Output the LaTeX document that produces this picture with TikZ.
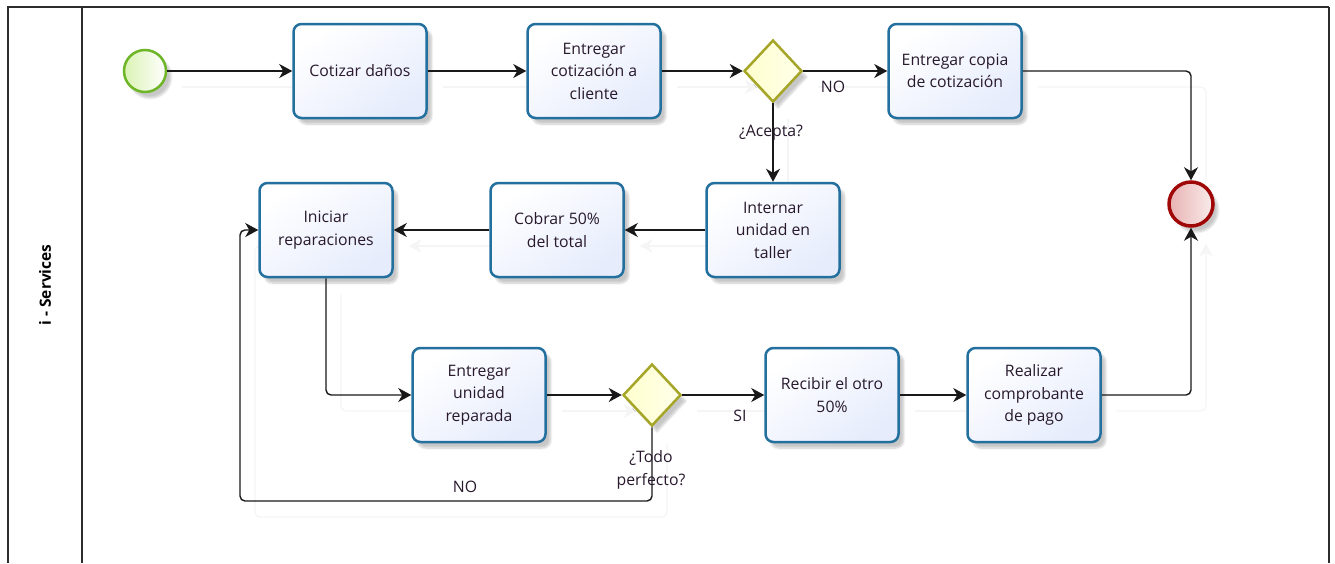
\documentclass[tikz,border=0pt]{standalone}
\usepackage{fontspec}
\setmainfont{Open Sans}
\usetikzlibrary{shapes.geometric,arrows.meta,shadows.blur,backgrounds}

\definecolor{taskline}{RGB}{35,112,158}
\definecolor{taskfill}{RGB}{230,236,252}
\definecolor{gwline}{RGB}{165,165,40}
\definecolor{gwfill}{RGB}{255,255,205}
\definecolor{startline}{RGB}{110,182,40}
\definecolor{startfill}{RGB}{218,242,180}
\definecolor{endline}{RGB}{160,8,8}
\definecolor{endfill}{RGB}{232,178,178}
\definecolor{textcol}{RGB}{40,25,45}
\definecolor{framecol}{RGB}{45,45,45}

\tikzset{
  x=1pt, y=-1pt,
  txt/.style={text=textcol, font=\fontsize{15.8}{22.5}\selectfont, align=center},
  softshadow/.style={blur shadow={shadow xshift=5pt, shadow yshift=-6pt,
      shadow opacity=22, shadow blur steps=7}},
  task/.style={txt, rectangle, rounded corners=8pt, draw=taskline, line width=2.5pt,
      top color=white, bottom color=taskfill, shading angle=35,
      minimum width=133pt, minimum height=94pt, inner sep=2pt, softshadow},
  gateway/.style={diamond, draw=gwline, line width=2.5pt,
      left color=gwfill, right color=gwfill!40, minimum width=58pt,
      minimum height=62pt, inner sep=0pt, softshadow},
  startev/.style={circle, draw=startline, line width=2.5pt,
      left color=startfill, right color=white, minimum size=42pt,
      inner sep=0pt, softshadow},
  endev/.style={circle, draw=endline, line width=3.5pt,
      left color=endfill, right color=endfill!25, minimum size=44pt,
      inner sep=0pt, softshadow},
  flowline/.style={draw=black!90, line width=1.4pt, rounded corners=5pt,
      -{Stealth[length=13pt,width=14pt,inset=4pt]}},
  ghostline/.style={draw=black!4, line width=1.4pt, rounded corners=5pt,
      -{Stealth[length=13pt,width=14pt,inset=4pt]}},
  lbl/.style={txt, inner sep=1pt}
}

% sequence flow with its faint offset echo underneath
\newcommand\flow[1]{%
  \begin{pgfonlayer}{background}
    \begin{scope}[transform canvas={shift={(15pt,-16pt)}}]
      \draw[ghostline] #1;
    \end{scope}
  \end{pgfonlayer}
  \draw[flowline] #1;}

\begin{document}
\begin{tikzpicture}
\useasboundingbox (0,0) rectangle (1335,563);

% pool and lane frame
\draw[framecol, line width=1.8pt] (8,563) -- (8,7) -- (1329,7);
\draw[framecol, line width=1.2pt] (1329,7) -- (1329,563);
\draw[framecol, line width=1.5pt] (82,7) -- (82,563);
\node[rotate=90, text=black, font=\bfseries\fontsize{15.5}{18}\selectfont] (lane) at (45,285) {i - Services};

% flow objects
\node[startev] (start) at (145,71) {};
\node[task] (cot) at (360,71) {Cotizar daños};
\node[task] (ent) at (594,71) {Entregar\\cotización a\\cliente};
\node[gateway] (gw1) at (773,71) {};
\node[task] (copia) at (955,71) {Entregar copia\\de cotización};
\node[endev] (fin) at (1191,204) {};

\node[task] (intern) at (773,230) {Internar\\unidad en\\taller};
\node[task] (cobrar) at (557,230) {Cobrar 50\%\\del total};
\node[task] (inic) at (326,230) {Iniciar\\reparaciones};

\node[task] (entu) at (479,395) {Entregar\\unidad\\reparada};
\node[gateway] (gw2) at (652,395) {};
\node[task] (recib) at (832,395) {Recibir el otro\\50\%};
\node[task] (realiz) at (1034,395) {Realizar\\comprobante\\de pago};

\coordinate (loopbl) at (240,501);

% sequence flows
\flow{(start.east) -- (cot.west)}
\flow{(cot.east) -- (ent.west)}
\flow{(ent.east) -- (gw1.west)}
\flow{(gw1.east) -- (copia.west)}
\flow{(gw1.south) -- (intern.north)}
\flow{(copia.east) -| (fin.north)}
\flow{(intern.west) -- (cobrar.east)}
\flow{(cobrar.west) -- (inic.east)}
\flow{(inic.south) |- (entu.west)}
\flow{(entu.east) -- (gw2.west)}
\flow{(gw2.east) -- (recib.west)}
\flow{(recib.east) -- (realiz.west)}
\flow{(realiz.east) -| (fin.south)}
\flow{(gw2.south) |- (loopbl) |- (inic.west)}

% gateway and flow labels
\node[lbl] (no1) at (833,87) {NO};
\node[lbl] (acepta) at (771,133) {¿Acepta?};
\node[lbl] (si) at (740,416) {SI};
\node[lbl] (todo) at (651,470) {¿Todo\\perfecto?};
\node[lbl] (no2) at (465,487) {NO};
\end{tikzpicture}
\end{document}
